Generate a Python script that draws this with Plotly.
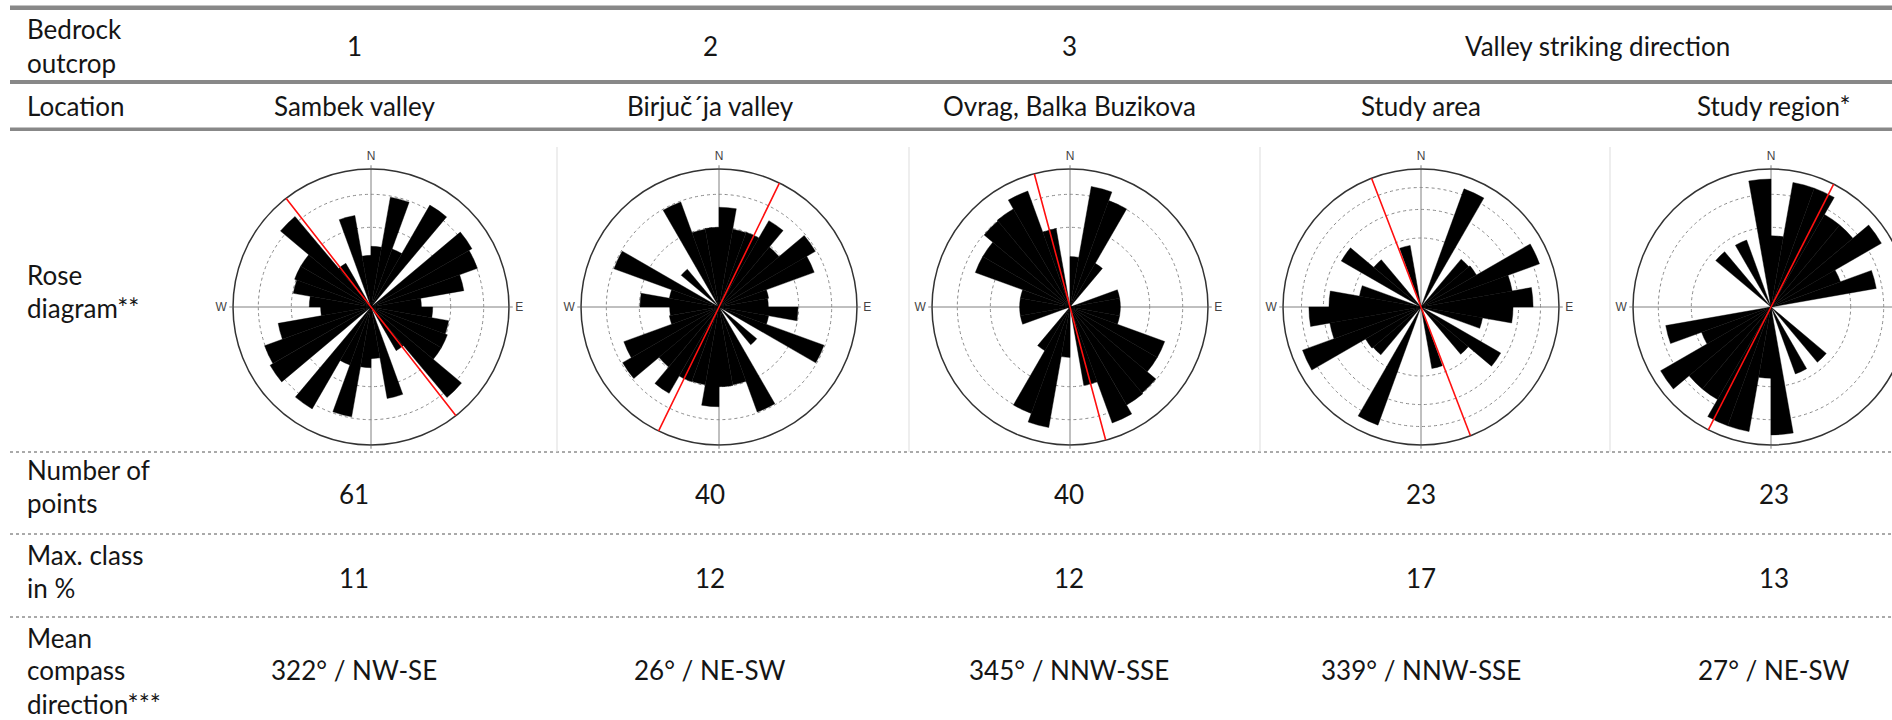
import numpy as np
import plotly.graph_objects as go

W, H = 1912, 720   # a bit wider than the window; the overflow is hidden (last rose is cut off)

# ---------------- data ----------------
row_labels = [["Bedrock", "outcrop"], ["Location"], ["Rose", "diagram**"],
              ["Number of", "points"], ["Max. class", "in %"],
              ["Mean", "compass", "direction***"]]
outcrop_ids = ["1", "2", "3"]
group_header = "Valley striking direction"
locations = ["Sambek valley", "Birjuč´ja valley", "Ovrag, Balka Buzikova",
             "Study area", "Study region*"]
n_points = [61, 40, 40, 23, 23]
max_class = [11, 12, 12, 17, 13]
mean_dir_deg = [322, 26, 345, 339, 27]
mean_dir_txt = ["NW-SE", "NE-SW", "NNW-SSE", "NNW-SSE", "NE-SW"]

# 10-degree classes from 0 to 180 (bidirectional data, mirrored to 180-360)
bin_start = list(range(0, 180, 10))
sambek_pct = [2.9, 9.8, 3.0, 10.9, 0, 10.7, 10.1, 7.0, 2.0,
              3.0, 4.9, 5.2, 5.2, 11.0, 2.0, 0, 6.8, 2.1]
birjucja_pct = [9.4, 5.9, 6.0, 9.4, 5.8, 11.7, 9.7, 2.4, 2.3,
                5.9, 2.4, 11.8, 0, 2.3, 0, 11.8, 5.9, 6.0]
ovrag_pct = [2.0, 11.8, 10.1, 2.0, 0, 0, 0, 2.0, 2.0,
             2.0, 2.0, 8.0, 8.0, 9.9, 10.1, 12.0, 5.0, 0]
study_area_pct = [0, 0, 16.6, 0, 4.1, 4.3, 16.7, 9.0, 13.2,
                  8.9, 4.1, 0, 8.9, 4.0, 0, 0, 4.1, 0]
study_region_pct = [4.0, 12.6, 12.6, 9.0, 9.0, 12.8, 4.3, 9.0, 0,
                    0, 0, 0, 0, 4.1, 0, 4.0, 0, 12.9]
rose_pct = [sambek_pct, birjucja_pct, ovrag_pct, study_area_pct, study_region_pct]
outer_pct = [15, 18, 15, 20, 15]      # value at outer circle
ring_count = [3, 3, 3, 4, 3]          # equal-area rings

# ---------------- layout constants ----------------
FONT = "Lato"
TXT = "#151515"
col_x = [354, 710, 1069, 1421, 1774]
rose_cx = [371, 719, 1070, 1421, 1771]
rose_cy = 307
rose_R = 138


def px(x):
    return x / W


def py(y):
    return 1 - y / H


fig = go.Figure()
annotations = []
shapes = []


def text(t, x, y, anchor="center", size=26):
    annotations.append(dict(text=t, x=px(x), y=py(y), xref="paper", yref="paper",
                            xanchor=anchor, yanchor="middle", showarrow=False,
                            font=dict(family=FONT, size=size, color=TXT)))


# table rules
for y0, y1 in [(5.5, 10), (80, 84), (127.5, 131)]:
    shapes.append(dict(type="rect", xref="paper", yref="paper", x0=px(10), x1=1,
                       y0=py(y1), y1=py(y0), fillcolor="#888888", line=dict(width=0),
                       layer="below"))
for y in [452, 534, 617]:
    shapes.append(dict(type="line", xref="paper", yref="paper", x0=px(10), x1=1,
                       y0=py(y), y1=py(y), line=dict(color="#555555", width=1, dash="dot"),
                       layer="below"))
for x in [557, 909, 1260, 1610]:
    shapes.append(dict(type="line", xref="paper", yref="paper", x0=px(x), x1=px(x),
                       y0=py(147), y1=py(452), line=dict(color="#dddddd", width=1),
                       layer="below"))

# row labels (left column)
label_y = [[29, 63], [106], [274.5, 308], [470, 503], [555, 588], [637.5, 670, 704]]
for lines, ys in zip(row_labels, label_y):
    for t, y in zip(lines, ys):
        text(t, 25, y, anchor="left")

# header rows
for t, x in zip(outcrop_ids, col_x[:3]):
    text(t, x, 46)
text(group_header, (col_x[3] + col_x[4]) / 2, 46)
for t, x in zip(locations, col_x):
    text(t, x, 106)

# value rows
for i, x in enumerate(col_x):
    text(str(n_points[i]), x, 494)
    text(str(max_class[i]), x, 578)
    text(f"{mean_dir_deg[i]}° / {mean_dir_txt[i]}", x, 670)

# rose diagrams
for i in range(5):
    key = "polar" if i == 0 else f"polar{i + 1}"
    pct = rose_pct[i]
    theta = [b + 5 for b in bin_start] + [b + 185 for b in bin_start]
    vals = pct + pct
    th = [t for t, v in zip(theta, vals) if v > 0]
    rr = [float(np.sqrt(v)) for v in vals if v > 0]
    fig.add_trace(go.Barpolar(r=rr, theta=th, width=[10] * len(rr),
                              marker=dict(color="black", line=dict(color="black", width=0.4)),
                              subplot=key, showlegend=False, hoverinfo="skip"))
    rmax = float(np.sqrt(outer_pct[i]))
    m = mean_dir_deg[i]
    fig.add_trace(go.Scatterpolar(r=[rmax, 0, rmax], theta=[m, m, m + 180], mode="lines",
                                  line=dict(color="#ff1010", width=1.6),
                                  subplot=key, showlegend=False, hoverinfo="skip"))
    n = ring_count[i]
    rings = [float(np.sqrt(outer_pct[i] * k / n)) for k in range(1, n)]
    cx = rose_cx[i]
    # the last diagram is cut by the page edge, so its "E" is not visible
    ticktext = ["N", "E", "", "W"] if i < 4 else ["N", "", "", "W"]
    fig.update_layout(**{key: dict(
        domain=dict(x=[px(cx - rose_R), min(1.0, px(cx + rose_R))],
                    y=[py(rose_cy + rose_R), py(rose_cy - rose_R)]),
        bgcolor="rgba(0,0,0,0)",
        angularaxis=dict(rotation=90, direction="clockwise", tickmode="array",
                         tickvals=[0, 90, 180, 270], ticktext=ticktext,
                         showgrid=True, gridcolor="#808080", gridwidth=1,
                         showline=True, linecolor="#333333", linewidth=1.5,
                         ticks="outside", ticklen=3, tickcolor="#808080",
                         tickfont=dict(family="Liberation Sans", size=12, color="#444444"),
                         layer="below traces"),
        radialaxis=dict(range=[0, rmax], tickmode="array", tickvals=rings,
                        showticklabels=False, ticks="", showline=False,
                        gridcolor="#8a8a8a", gridwidth=1, griddash="dot",
                        layer="below traces"),
    )})

fig.update_layout(width=W, height=H, margin=dict(l=0, r=0, t=0, b=0),
                  paper_bgcolor="white", plot_bgcolor="white",
                  annotations=annotations, shapes=shapes, dragmode=False)
fig.write_html("out.html", config={"displayModeBar": False, "staticPlot": True},
               post_script="document.body.style.margin='0';"
                           "document.body.style.overflow='hidden';"
                           "document.documentElement.style.overflow='hidden';")
